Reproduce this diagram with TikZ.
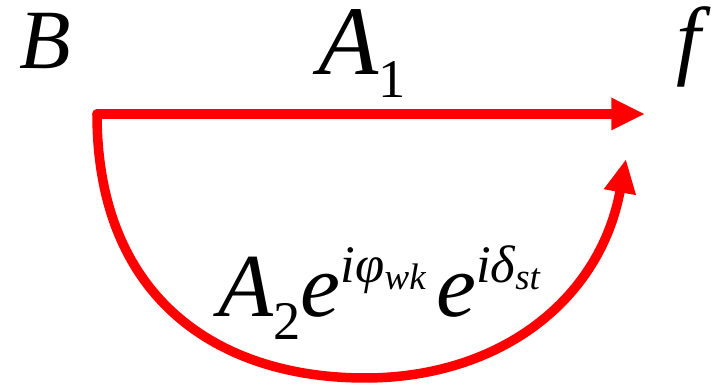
\documentclass[tikz,border=0pt]{standalone}
\usepackage{fontspec}
\newfontfamily\tnr{Liberation Serif}
\usetikzlibrary{arrows.meta}
\newcommand{\fsz}[1]{\fontsize{#1}{#1}\selectfont}
\begin{document}
\begin{tikzpicture}[
lbl/.style={inner sep=0pt, anchor=base west, font=\tnr\itshape},
path/.style={draw=red, line width=2.7pt, line cap=round, -{Triangle[length=9.6pt, width=8.6pt]}}
]
\useasboundingbox (0,0) rectangle (7.15,3.85);
\node[lbl] (bme) at (0.19,3.16) {\fsz{24pt}B};
\node[lbl] (amp1) at (3.18,3.10) {\fsz{28pt}A\raisebox{-6.5pt}{\fsz{15.5pt}\upshape 1}};
\node[lbl] (fin) at (6.76,3.16) {\fsz{25pt}f};
\node[lbl] (amp2) at (2.18,0.68) {\fsz{25.6pt}A\raisebox{-6.5pt}{\fsz{15.5pt}\upshape 2}e\raisebox{9.7pt}{\fsz{15pt}iφ\raisebox{-2pt}{\fsz{10.5pt}wk}}\hspace{3pt}e\raisebox{9.7pt}{\fsz{15pt}iδ\raisebox{-2pt}{\fsz{10.5pt}st}}};

\coordinate (src) at (0.97,2.71);
\coordinate (dst) at (6.45,2.71);
\coordinate (low) at (3.65,0.07);
\coordinate (dst2) at (6.26,2.26);

\draw[path] (src) -- (dst);
\draw[path] (src) .. controls (0.97,0.85) and (2.20,0.07) .. (low)
  .. controls (5.00,0.07) and (6.00,0.85) .. (dst2);
\end{tikzpicture}
\end{document}
